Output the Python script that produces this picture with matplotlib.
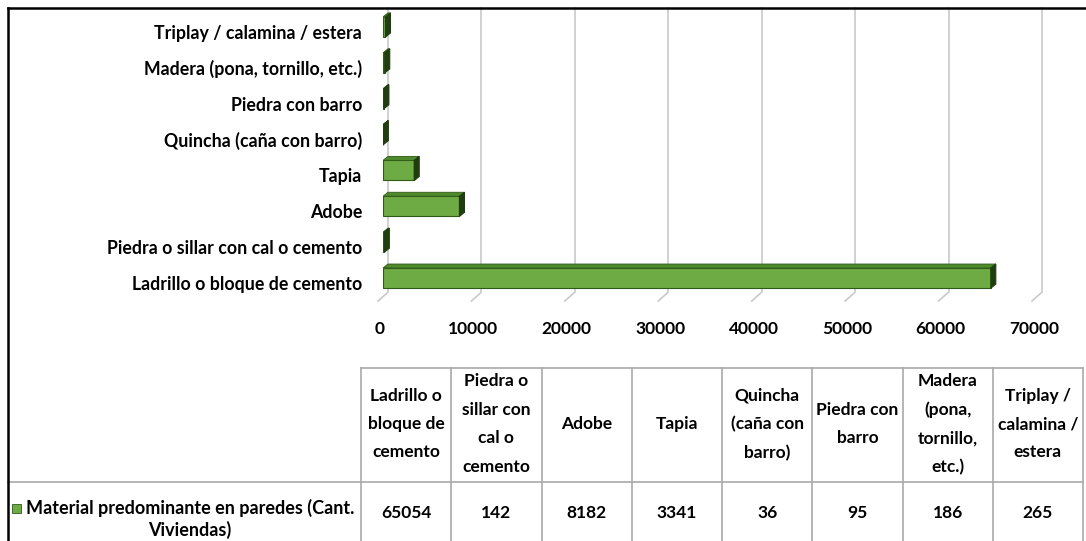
import matplotlib
matplotlib.use("Agg")
import matplotlib.pyplot as plt
import matplotlib.transforms as mtransforms
from matplotlib.patches import Polygon, Rectangle
from matplotlib.lines import Line2D

# data (bottom to top in the bar chart, left to right in the table)
materials = ["Ladrillo o bloque de cemento", "Piedra o sillar con cal o cemento", "Adobe", "Tapia",
             "Quincha (caña con barro)", "Piedra con barro", "Madera (pona, tornillo, etc.)",
             "Triplay / calamina / estera"]
table_headers = ["Ladrillo o\nbloque de\ncemento", "Piedra o\nsillar con\ncal o\ncemento", "Adobe", "Tapia",
                 "Quincha\n(caña con\nbarro)", "Piedra con\nbarro", "Madera\n(pona,\ntornillo,\netc.)",
                 "Triplay /\ncalamina /\nestera"]
viviendas = [65054, 142, 8182, 3341, 36, 95, 186, 265]
series_name = "Material predominante en paredes (Cant.\nViviendas)"
x_ticks = [0, 10000, 20000, 30000, 40000, 50000, 60000, 70000]

W, H = 1086, 541
FONT = "Lato"
GREEN = "#6fab45"
EDGE = "#2f5a17"
TOPC = "#4e8a2c"
SIDE = "#1f3d0e"
GRID = "#c9c9c9"
TBL = "#a9a9a9"

fig = plt.figure(figsize=(W / 100, H / 100), dpi=100)
fig.patch.set_facecolor("white")

def fx(px):
    return px / W

def fy(py):
    return 1 - py / H

# plot area (front plane of the 3D chart)
left, right, top, bottom = 383, 1037, 9, 296
ax = fig.add_axes([fx(left), fy(bottom), fx(right - left), (bottom - top) / H])
ax.set_xlim(0, 70000)
ax.set_ylim(-0.5, len(materials) - 0.5)
for s in ax.spines.values():
    s.set_visible(False)

ux = 70000 / (right - left)          # data units per pixel, x
uy = len(materials) / (bottom - top)  # data units per pixel, y
depth_x, depth_y = 5, 4

# back wall gridlines and floor ticks
for v in x_ticks:
    ax.plot([v + depth_x * ux] * 2, [-0.5 + depth_y * uy, len(materials) - 0.5 + 1 * uy],
            color=GRID, lw=1.2, zorder=0, clip_on=False)
    ax.plot([v - 5 * ux, v + 4 * ux], [-0.5 - 5 * uy, -0.5 + 3 * uy],
            color=GRID, lw=1.2, zorder=0, clip_on=False)

# bars with a simple 3D look
h = 0.56
ypos = list(range(len(materials)))
ax.barh(ypos, viviendas, height=h, color=GREEN, edgecolor=EDGE, linewidth=0.8, zorder=3)
for y, v in zip(ypos, viviendas):
    t = y + h / 2
    b = y - h / 2
    dx, dy = depth_x * ux, depth_y * uy
    ax.add_patch(Polygon([(0, t), (v, t), (v + dx, t + dy), (dx, t + dy)],
                         closed=True, facecolor=TOPC, edgecolor=EDGE, lw=0.6, zorder=3))
    ax.add_patch(Polygon([(v, b), (v + dx, b + dy), (v + dx, t + dy), (v, t)],
                         closed=True, facecolor=SIDE, edgecolor=SIDE, lw=0.8, zorder=3))

ax.set_yticks(ypos, materials)
ax.set_xticks(x_ticks, [str(v) for v in x_ticks])
ax.tick_params(axis="y", length=0, pad=15)
ax.tick_params(axis="x", length=0, pad=18)
for lbl in ax.get_yticklabels():
    lbl.set_fontfamily(FONT)
    lbl.set_fontweight("bold")
    lbl.set_fontsize(12.8)
    lbl.set_transform(lbl.get_transform() + mtransforms.ScaledTranslation(0, -5 / 100, fig.dpi_scale_trans))
for lbl in ax.get_xticklabels():
    lbl.set_fontfamily(FONT)
    lbl.set_fontweight("bold")
    lbl.set_fontsize(12.5)
    lbl.set_transform(lbl.get_transform() + mtransforms.ScaledTranslation(-3 / 100, 0, fig.dpi_scale_trans))

# data table
tbl_left, tbl_right = 361, 1083
tbl_top, tbl_mid, tbl_bot = 368, 482, 541
col_w = (tbl_right - tbl_left) / len(table_headers)

def hline(y, x0, x1, color=TBL, lw=1.2):
    fig.add_artist(Line2D([fx(x0), fx(x1)], [fy(y), fy(y)], transform=fig.transFigure, color=color, lw=lw))

def vline(x, y0, y1, color=TBL, lw=1.2):
    fig.add_artist(Line2D([fx(x), fx(x)], [fy(y0), fy(y1)], transform=fig.transFigure, color=color, lw=lw))

hline(tbl_top, tbl_left, tbl_right)
hline(tbl_mid, 8, tbl_right)
for i in range(len(table_headers) + 1):
    vline(tbl_left + i * col_w, tbl_top, tbl_bot)

for i, (hd, v) in enumerate(zip(table_headers, viviendas)):
    cx = tbl_left + (i + 0.5) * col_w
    fig.text(fx(cx), fy(424), hd, ha="center", va="center", fontsize=12.5, fontfamily=FONT,
             fontweight="bold", linespacing=1.95)
    fig.text(fx(cx), fy(513), str(v), ha="center", va="center", fontsize=12.5, fontfamily=FONT,
             fontweight="bold")

fig.add_artist(Rectangle((fx(12), fy(513)), fx(9), 9 / H, transform=fig.transFigure,
                         facecolor=GREEN, edgecolor=EDGE, lw=0.6))
fig.text(fx(190), fy(519), series_name, ha="center", va="center", fontsize=13, fontfamily=FONT,
         fontweight="bold", linespacing=1.25)

# outer frame (top and left visible in the crop)
hline(8, 8, W, color="black", lw=1.8)
vline(8, 8, H, color="black", lw=1.8)

fig.savefig("out.png", dpi=100)
